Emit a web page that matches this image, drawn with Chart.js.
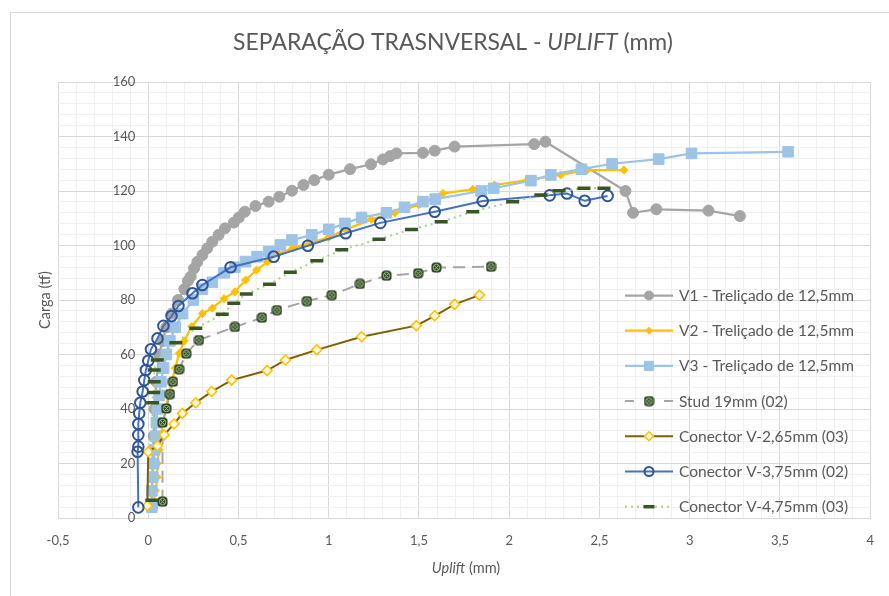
<!DOCTYPE html>
<html><head><meta charset="utf-8">
<script src="https://cdn.jsdelivr.net/npm/chart.js@4"></script>
<style>html,body{margin:0;padding:0;background:#fff;}#wrap{position:relative;width:889px;height:596px;}</style>
</head><body><div id="wrap"><canvas id="c" width="889" height="596"></canvas></div>
<script>
const titleParts = ["SEPARAÇÃO TRASNVERSAL - ", "UPLIFT", " (mm)"];
const xTitleParts = ["Uplift", " (mm)"];
const yTitle = "Carga (tf)";
const seriesNames = ["V1 - Treliçado de 12,5mm","V2 - Treliçado de 12,5mm","V3 - Treliçado de 12,5mm","Stud 19mm (02)","Conector V-2,65mm (03)","Conector V-3,75mm (02)","Conector V-4,75mm (03)"];

const v1X = [0.02,0.02,0.025,0.03,0.035,0.045,0.06,0.08,0.1,0.13,0.165,0.2,0.22,0.235,0.254,0.272,0.30,0.327,0.355,0.39,0.425,0.474,0.502,0.535,0.594,0.667,0.726,0.796,0.86,0.92,1.0,1.118,1.234,1.30,1.34,1.375,1.522,1.587,1.697,2.138,2.20,2.644,2.686,2.815,3.104,3.278];
const v1Y = [4,10,20,30,40,50,60,65,70,75,80,84,87,88.6,91.6,94,96.5,99,101.4,103.9,106.3,108.4,110.3,112.4,114.5,116.1,117.9,120.1,122.2,124,126,128,129.8,131.6,132.8,133.8,134,134.8,136.3,137.2,138.1,120,112,113.3,112.8,110.8];

const v2X = [0.03,0.04,0.05,0.05,0.06,0.07,0.08,0.1,0.11,0.13,0.15,0.171,0.2,0.24,0.3,0.355,0.42,0.48,0.539,0.6,0.66,0.72,0.8,0.9,1.0,1.1,1.237,1.366,1.5,1.633,1.798,1.918,2.1,2.285,2.432,2.635];
const v2Y = [5,10,15,20,25,30,35,40,45,50,55,60.4,65,70.2,75,77,80.5,83,87.3,91,94,97,99,101,103,106,109.6,112,115,119.1,120.6,122.2,124,125.9,127.7,127.7];

const v3X = [0.02,0.02,0.025,0.03,0.035,0.04,0.045,0.05,0.06,0.07,0.085,0.1,0.12,0.15,0.19,0.25,0.3,0.355,0.42,0.48,0.539,0.603,0.667,0.732,0.796,0.906,1.0,1.09,1.182,1.32,1.42,1.522,1.59,1.844,1.914,2.12,2.23,2.40,2.57,2.828,3.01,3.545];
const v3Y = [4,10,15,20,25,30,35,40,45,50,55,60,65,70,75,80,84,86.5,90,92,94.1,95.9,97.7,100.2,102,103.9,105.9,108.1,110.3,112,114,116.1,117,120,121,123.8,125.9,128,130,131.7,133.8,134.4];

const studX = [0.079,0.079,0.1,0.12,0.137,0.171,0.21,0.281,0.48,0.63,0.713,0.879,1.017,1.173,1.32,1.495,1.596,1.899];
const studY = [6,35,40.2,45.5,50,54.6,60.3,65.3,70.1,73.5,76.3,79.6,81.8,85.9,88.9,89.8,91.9,92.2];

const c265X = [-0.005,0.0,0.051,0.088,0.143,0.189,0.263,0.351,0.462,0.658,0.76,0.934,1.182,1.485,1.587,1.697,1.835];
const c265Y = [4.5,24.3,26.5,30.5,34.5,38.4,42.3,46.4,50.6,54.1,58,61.7,66.5,70.6,74.2,78.4,81.8];

const c375X = [-0.055,-0.059,-0.055,-0.055,-0.055,-0.05,-0.044,-0.031,-0.022,-0.013,0.0,0.015,0.051,0.084,0.129,0.167,0.245,0.30,0.456,0.695,0.884,1.094,1.286,1.587,1.853,2.224,2.32,2.418,2.545];
const c375Y = [3.9,24.3,26.2,30.5,34.5,38.4,42.3,46.4,50.6,54.3,57.7,61.9,65.9,70.5,74.1,77.8,82.5,85.5,92,95.9,99.9,104.5,108.3,112.4,116.3,118.4,119.1,116.4,118.2];

const c475X = [0.02,0.024,0.03,0.033,0.033,0.05,0.153,0.263,0.41,0.474,0.543,0.672,0.787,0.934,1.072,1.278,1.458,1.623,1.798,2.019,2.175,2.276,2.414,2.525];
const c475Y = [6.5,42.3,46.1,50,54.3,58,64.3,69.6,74.8,78.8,82.2,85.8,90.2,94.4,98.4,102.3,105.9,108.7,112.4,116.1,118.5,120.1,121,121];

const xTickLabels = ["-0,5","0","0,5","1","1,5","2","2,5","3","3,5","4"];
const yTickLabels = ["0","20","40","60","80","100","120","140","160"];

const FONT = "Lato, 'Open Sans', sans-serif";
const TXT = "#595959";

function pts(xs, ys){ return xs.map((x,i)=>({x:x, y:ys[i]})); }

// custom marker for Stud: dark green rounded square with light X
const studMarker = document.createElement('canvas');
studMarker.width = 11; studMarker.height = 11;
(function(){
  const g = studMarker.getContext('2d');
  g.fillStyle = '#263f1a';
  g.beginPath();
  if (g.roundRect) g.roundRect(0.5,0.5,10,10,3.5); else g.rect(0.5,0.5,10,10);
  g.fill();
  g.strokeStyle = '#a8c895'; g.lineWidth = 1;
  g.beginPath(); g.arc(5.5,5.5,3.2,0,Math.PI*2); g.stroke();
  g.beginPath(); g.moveTo(3.2,3.2); g.lineTo(7.8,7.8); g.moveTo(7.8,3.2); g.lineTo(3.2,7.8); g.stroke();
})();

const datasets = [
  {label: seriesNames[0], data: pts(v1X,v1Y), borderColor:'#a5a5a5', backgroundColor:'#a5a5a5', borderWidth:2.25, pointStyle:'circle', pointRadius:5.5, pointBorderWidth:1, pointBackgroundColor:'#a5a5a5', pointBorderColor:'#a5a5a5', order:6},
  {label: seriesNames[1], data: pts(v2X,v2Y), borderColor:'#ffc000', backgroundColor:'#ffc000', borderWidth:2.25, pointStyle:'rectRot', pointRadius:4, pointBorderWidth:1, pointBackgroundColor:'#ffc000', pointBorderColor:'#ffc000', order:5},
  {label: seriesNames[2], data: pts(v3X,v3Y), borderColor:'#9dc3e6', backgroundColor:'#9dc3e6', borderWidth:2.25, pointStyle:'rect', pointRadius:7.5, pointBorderWidth:1, pointBackgroundColor:'#9dc3e6', pointBorderColor:'#9dc3e6', order:4},
  {label: seriesNames[3], data: pts(studX,studY), borderColor:'#a5a5a5', backgroundColor:'#263f1a', borderWidth:2, borderDash:[12,7], pointStyle:studMarker, pointRadius:6, order:3},
  {label: seriesNames[4], data: pts(c265X,c265Y), borderColor:'#7f6000', backgroundColor:'#fff7dc', borderWidth:2, pointStyle:'rectRot', pointRadius:5, pointBorderWidth:1.5, pointBackgroundColor:'#fff7dc', pointBorderColor:'#ffc000', order:2},
  {label: seriesNames[5], data: pts(c375X,c375Y), borderColor:'#4472c4', backgroundColor:'rgba(255,255,255,0)', borderWidth:2, pointStyle:'circle', pointRadius:5.3, pointBorderWidth:2, pointBackgroundColor:'rgba(255,255,255,0)', pointBorderColor:'#2f5597', order:1},
  {label: seriesNames[6], data: pts(c475X,c475Y), borderColor:'#a9d18e', backgroundColor:'#375623', borderWidth:2, borderDash:[2,4], pointStyle:'line', pointRadius:6.5, pointBorderWidth:3.5, pointBackgroundColor:'#375623', pointBorderColor:'#375623', order:0}
];
datasets.forEach(d=>{ d.showLine = true; d.tension = 0; d.fill = false; d.pointHoverRadius = d.pointRadius; });

function isMult(v, step){ const r = v/step; return Math.abs(r - Math.round(r)) < 1e-6; }

const decor = {
  id:'decor',
  beforeDraw(chart){
    const ctx = chart.ctx;
    ctx.save();
    ctx.strokeStyle = '#d9d9d9'; ctx.lineWidth = 1;
    ctx.beginPath(); ctx.moveTo(10.5, 596); ctx.lineTo(10.5, 12.5); ctx.lineTo(889, 12.5); ctx.stroke();
    ctx.restore();
  },
  afterDraw(chart){
    const ctx = chart.ctx;
    ctx.save();
    ctx.fillStyle = TXT;
    ctx.textBaseline = 'middle';
    // Title
    let sz = 20;
    const measure = ()=>{
      ctx.font = sz + "px " + FONT; let w = ctx.measureText(titleParts[0]).width + ctx.measureText(titleParts[2]).width;
      ctx.font = "italic " + sz + "px " + FONT; w += ctx.measureText(titleParts[1]).width; return w; };
    sz = 20 * 440 / measure();
    const tw = measure();
    let x = 453 - tw/2; const ty = 43;
    ctx.textAlign = 'left';
    ctx.font = sz + "px " + FONT; ctx.fillText(titleParts[0], x, ty); x += ctx.measureText(titleParts[0]).width;
    ctx.font = "italic " + sz + "px " + FONT; ctx.fillText(titleParts[1], x, ty); x += ctx.measureText(titleParts[1]).width;
    ctx.font = sz + "px " + FONT; ctx.fillText(titleParts[2], x, ty);
    // X title
    const xs = 14.5;
    ctx.font = "italic " + xs + "px " + FONT; const w1 = ctx.measureText(xTitleParts[0]).width;
    ctx.font = xs + "px " + FONT; const w2 = ctx.measureText(xTitleParts[1]).width;
    x = 466 - (w1+w2)/2;
    ctx.font = "italic " + xs + "px " + FONT; ctx.fillText(xTitleParts[0], x, 568);
    ctx.font = xs + "px " + FONT; ctx.fillText(xTitleParts[1], x + w1, 568);
    // Y title
    ctx.save(); ctx.translate(45, 300); ctx.rotate(-Math.PI/2); ctx.textAlign='center';
    ctx.font = xs + "px " + FONT; ctx.fillText(yTitle, 0, 0); ctx.restore();
    // Legend
    const lx0 = 625, lx1 = 673, tx = 679, y0 = 295.5, dy = 35.2;
    ctx.font = "14px " + FONT;
    const lsz = 14 * 175 / ctx.measureText(seriesNames[0]).width;
    chart.data.datasets.forEach((d, i)=>{
      const y = y0 + i*dy;
      ctx.save();
      ctx.strokeStyle = d.borderColor; ctx.lineWidth = d.borderWidth; ctx.setLineDash(d.borderDash || []);
      if (i === 3) { ctx.beginPath(); ctx.moveTo(lx0, y); ctx.lineTo(lx0+9, y); ctx.moveTo(lx1-9, y); ctx.lineTo(lx1, y); ctx.stroke(); }
      else { ctx.beginPath(); ctx.moveTo(lx0, y); ctx.lineTo(lx1, y); ctx.stroke(); }
      ctx.setLineDash([]);
      ctx.fillStyle = d.pointBackgroundColor || d.backgroundColor; ctx.strokeStyle = d.pointBorderColor || d.borderColor;
      ctx.lineWidth = d.pointBorderWidth || 1;
      let r = d.pointRadius; if (i===0) r = 4.5; if (i===2) r = 6.5; if (i===1) r = 3.5; if (i===4) r = 4.5; if (i===5) r = 4.5; if (i===6) r = 5.5;
      Chart.helpers.drawPoint(ctx, {pointStyle: d.pointStyle, rotation: 0, radius: r, borderWidth: ctx.lineWidth}, (lx0+lx1)/2, y);
      ctx.restore();
      ctx.fillStyle = TXT; ctx.textAlign = 'left'; ctx.font = lsz + "px " + FONT;
      ctx.fillText(d.label, tx, y + 0.5);
    });
    ctx.restore();
  }
};

new Chart(document.getElementById('c'), {
  type: 'scatter',
  data: { datasets },
  options: {
    responsive: false, animation: false, events: [],
    layout: { padding: { left: 58, right: 16, top: 82, bottom: 0 } },
    plugins: { legend: { display: false }, title: { display: false }, tooltip: { enabled: false } },
    scales: {
      x: {
        type: 'linear', min: -0.5, max: 4,
        afterBuildTicks(scale){ const t=[]; for (let i=-5;i<=40;i++) t.push({value:i/10}); scale.ticks = t; },
        afterFit(scale){ scale.height = 78; },
        ticks: { autoSkip:false, maxRotation:0, minRotation:0, padding: 15, color: TXT, font: { family: FONT, size: 13 },
          callback(v){ if (!isMult(v,0.5)) return ''; const k = Math.round((v + 0.5) / 0.5); return xTickLabels[k] || ''; } },
        grid: { drawTicks:false, lineWidth:1, color(c){ return isMult(c.tick.value,0.5) ? '#d9d9d9' : '#f0f0f0'; } },
        border: { display: true, color: '#d9d9d9' }
      },
      y: {
        type: 'linear', min: 0, max: 160, position: { x: 0 },
        afterBuildTicks(scale){ const t=[]; for (let v=0; v<=160; v+=4) t.push({value:v}); scale.ticks = t; },
        ticks: { autoSkip:false, padding: 14, color: TXT, font: { family: FONT, size: 13 },
          callback(v){ if (!isMult(v,20)) return ''; return yTickLabels[Math.round(v/20)] + '\u2003\u2009\u2009'; } },
        grid: { drawTicks:false, lineWidth:1, color(c){ return isMult(c.tick.value,20) ? '#d9d9d9' : '#f0f0f0'; } },
        border: { display: false }
      }
    }
  },
  plugins: [decor]
});
</script></body></html>
